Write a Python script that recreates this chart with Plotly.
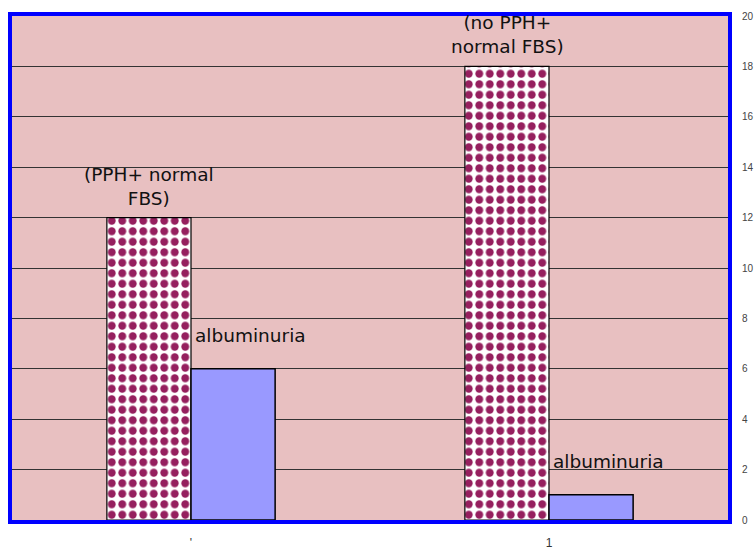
import plotly.graph_objects as go

# ---- data ----
groups = ["'", "1"]
pph_values = [12, 18]
alb_values = [6, 1]
pph_labels = ["(PPH+ normal<br>FBS)", "(no PPH+<br>normal FBS)"]
alb_label = "albuminuria"
y_ticks = [0, 2, 4, 6, 8, 10, 12, 14, 16, 18, 20]

W, H = 756, 551
ml, mr, mt, mb = 12, 28, 16, 31
pw, ph = W - ml - mr, H - mt - mb

fig = go.Figure()
fig.add_trace(go.Bar(
    x=groups, y=pph_values, name="PPH",
    marker=dict(color="white", line=dict(color="black", width=1.2),
                pattern=dict(shape=".", fgcolor="#951f5e", fgopacity=1,
                             size=10.5, solidity=0.45)),
    hoverinfo="y"))
fig.add_trace(go.Bar(
    x=groups, y=alb_values, name=alb_label,
    marker=dict(color="#9999ff", line=dict(color="black", width=1.5)),
    hoverinfo="y"))

font = dict(family="DejaVu Sans, Arial, sans-serif", size=18.5, color="#111111")
ann = []
for i, g in enumerate(groups):
    ann.append(dict(x=g, y=pph_values[i], xref="x", yref="y", text=pph_labels[i],
                    showarrow=False, xshift=-42, yanchor="bottom", yshift=7,
                    font=font, align="center"))
    ann.append(dict(x=g, y=alb_values[i], xref="x", yref="y", text=alb_label,
                    showarrow=False, xanchor="left", xshift=2, yanchor="bottom", yshift=21,
                    font=font))

fig.update_layout(
    width=W, height=H,
    margin=dict(l=ml, r=mr, t=mt, b=mb, autoexpand=False),
    paper_bgcolor="white", plot_bgcolor="#e8c0c1",
    barmode="group", bargap=0.53, bargroupgap=0,
    showlegend=False,
    annotations=ann,
    shapes=[dict(type="rect", xref="paper", yref="paper",
                 x0=-2 / pw, x1=1 + 2 / pw, y0=-2 / ph, y1=1 + 2 / ph,
                 line=dict(color="#0000ff", width=4), layer="above")],
)
fig.update_xaxes(range=[-0.5, 1.5], showgrid=False, zeroline=False, showline=False,
                 automargin=False,
                 ticks="outside", ticklen=12, tickcolor="rgba(0,0,0,0)",
                 tickfont=dict(family="Liberation Sans, Arial", size=12, color="#333"))
fig.update_yaxes(range=[0, 20], side="right", tickvals=y_ticks,
                 automargin=False,
                 showgrid=True, gridcolor="#333333", gridwidth=1.2,
                 zeroline=False, showline=False,
                 ticks="outside", ticklen=11, tickcolor="rgba(0,0,0,0)",
                 tickfont=dict(family="Liberation Sans, Arial", size=10, color="#444"))

fig.write_html("out.html", config={"displayModeBar": False},
               post_script="document.body.style.margin='0';document.body.style.overflow='hidden';")
